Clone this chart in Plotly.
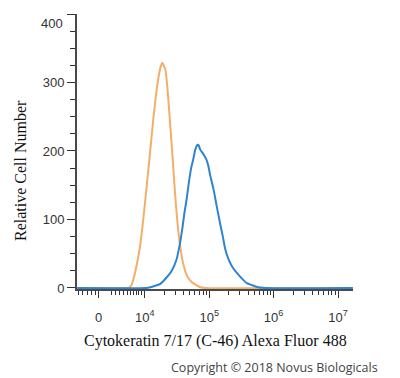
import plotly.graph_objects as go
import math

# ---- data (x in display "decade" units of the biexponential axis, y = cell count)
orange_x = [2.95, 3.70, 3.744, 3.791, 3.837, 3.876, 3.919, 3.981, 4.034, 4.085, 4.136, 4.198,
            4.240, 4.267, 4.287, 4.318, 4.344, 4.384, 4.422, 4.457, 4.488, 4.535, 4.592,
            4.654, 4.721, 4.798, 4.860, 4.938, 7.23]
orange_y = [0, 0, 0, 4, 18, 35, 57, 105, 154, 202, 251, 299,
            321, 329, 326, 319, 299, 251, 202, 154, 115, 71, 37,
            18, 9, 4, 1, 0, 0]

blue_x = [2.95, 4.02, 4.085, 4.136, 4.240, 4.344, 4.422, 4.493, 4.543, 4.581, 4.612, 4.648,
          4.682, 4.721, 4.752, 4.783, 4.819, 4.837, 4.860, 4.912, 4.953, 4.984, 5.016,
          5.067, 5.119, 5.171, 5.209, 5.248, 5.299, 5.357, 5.429, 5.496, 5.584, 5.667,
          5.760, 5.868, 7.23]
blue_y = [0, 0, 1, 2.5, 6, 16, 26, 42, 64, 86, 108, 129,
          153, 176, 188, 202, 209, 208, 202, 195, 188, 179, 164,
          144, 118, 93, 76, 57, 42, 31, 22, 15, 7, 4,
          1, 0, 0]

x_tick_pos = [3.28, 4, 5, 6, 7]
x_tick_text = ["0", "10<sup>4</sup>", "10<sup>5</sup>", "10<sup>6</sup>", "10<sup>7</sup>"]
y_tick_vals = [0, 100, 200, 300, 400]
y_tick_text = ["0", "100", "200", "300", ""]

# minor ticks of the x axis
low_minor = [2.964, 3.036, 3.104, 3.171, 3.233, 3.481, 3.543, 3.609, 3.671, 3.724,
             3.775, 3.826, 3.868, 3.904, 3.941]
log_minor = [k + math.log10(m) for k in (4, 5, 6) for m in range(2, 10)]

fig = go.Figure()
fig.add_trace(go.Scatter(x=orange_x, y=orange_y, mode="lines",
                         line=dict(color="#F3AE6A", width=2, shape="spline", smoothing=0.6),
                         hoverinfo="skip", showlegend=False))
fig.add_trace(go.Scatter(x=blue_x, y=blue_y, mode="lines",
                         line=dict(color="#2F84CF", width=2, shape="spline", smoothing=0.6),
                         hoverinfo="skip", showlegend=False))

tick_font = dict(family="Liberation Sans, Arial, sans-serif", size=13, color="#333333")
title_font = dict(family="Liberation Serif, Times New Roman, serif", size=16, color="#111111")

# the page body has an 8px margin, so the figure starts 8px in from the top-left corner
fig.update_layout(
    width=392, height=370,
    margin=dict(l=69, r=47, t=6, b=89),
    paper_bgcolor="white", plot_bgcolor="white",
    xaxis=dict(range=[2.946, 7.233], showgrid=False, zeroline=False,
               showline=True, linecolor="#4a4a4a", linewidth=2, layer="below traces",
               tickmode="array", tickvals=x_tick_pos, ticktext=x_tick_text,
               ticks="outside", ticklen=7, tickwidth=1, tickcolor="#333333",
               tickfont=tick_font, ticklabelstandoff=8,
               minor=dict(tickmode="array", tickvals=low_minor + log_minor,
                          ticks="outside", ticklen=4, tickwidth=1, tickcolor="#333333")),
    yaxis=dict(range=[-1.5, 400], showgrid=False, zeroline=False,
               showline=True, linecolor="#4a4a4a", linewidth=2, layer="below traces",
               tickmode="array", tickvals=y_tick_vals, ticktext=y_tick_text,
               ticks="outside", ticklen=8, tickwidth=1, tickcolor="#333333",
               tickfont=tick_font,
               minor=dict(dtick=25, tick0=0, ticks="outside", ticklen=5, tickwidth=1,
                          tickcolor="#333333")),
)

fig.add_annotation(text="400", xref="paper", yref="y", x=0, y=400, xanchor="right",
                   yanchor="middle", xshift=-12, yshift=-9, showarrow=False, font=tick_font)
fig.add_annotation(text="Cytokeratin 7/17 (C-46) Alexa Fluor 488", xref="paper", yref="paper",
                   x=0.5, y=-0.189, xanchor="center", yanchor="middle", showarrow=False,
                   font=title_font)
fig.add_annotation(text="Relative Cell Number", xref="paper", yref="paper",
                   x=-0.2065, y=0.429, xanchor="center", yanchor="middle", textangle=-90,
                   showarrow=False, font=title_font)
fig.add_annotation(text="Copyright © 2018 Novus Biologicals", xref="paper", yref="paper",
                   x=0.717, y=-0.287, xanchor="center", yanchor="middle", showarrow=False,
                   font=dict(family="Open Sans, sans-serif", size=12.5, color="#444444"))

fig.write_html("out.html")
